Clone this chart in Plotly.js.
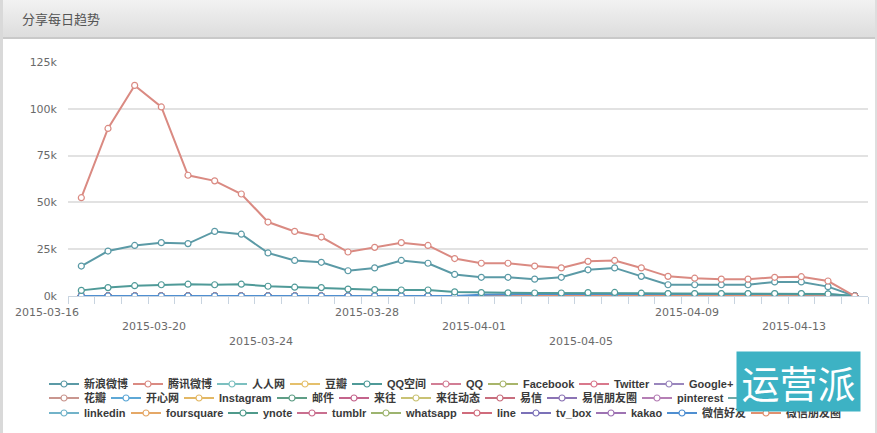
<!DOCTYPE html>
<html>
<head>
<meta charset="utf-8">
<script src="https://cdn.plot.ly/plotly-3.0.1.min.js"></script>
<style>
  html, body { margin: 0; padding: 0; background: #ffffff; }
  #wrap {
    position: relative; width: 877px; height: 433px; overflow: hidden;
    background: linear-gradient(to bottom, #f2f2f2 0px, #dddddd 37px, #c9c9c9 37px, #c9c9c9 39px, #ffffff 39px);
    box-sizing: border-box; border-left: 3px solid #d9d9d9; border-right: 2px solid #dedede;
  }
  #chart { position: absolute; left: -3px; top: 0; width: 877px; height: 433px; }
</style>
</head>
<body>
<div id="wrap"><div id="chart"></div></div>
<script>
// ---- data ----
const dates = ['2015-03-16','2015-03-17','2015-03-18','2015-03-19','2015-03-20','2015-03-21','2015-03-22','2015-03-23','2015-03-24','2015-03-25',
               '2015-03-26','2015-03-27','2015-03-28','2015-03-29','2015-03-30','2015-03-31','2015-04-01','2015-04-02','2015-04-03','2015-04-04',
               '2015-04-05','2015-04-06','2015-04-07','2015-04-08','2015-04-09','2015-04-10','2015-04-11','2015-04-12','2015-04-13','2015-04-14'];

const seriesNames = ['新浪微博','腾讯微博','人人网','豆瓣','QQ空间','QQ','Facebook','Twitter','Google+','搜狐微博',
                     '花瓣','开心网','Instagram','邮件','来往','来往动态','易信','易信朋友圈','pinterest','evernote',
                     'linkedin','foursquare','ynote','tumblr','whatsapp','line','tv_box','kakao','微信好友','微信朋友圈'];

const sinaWeibo    = [16000,24000,27000,28500,28000,34500,33000,23000,19000,18000,13500,15000,19000,17500,11500,10000,10000,9000,10000,14000,15000,10500,6000,6000,6000,6000,7500,7500,5000,0];
const tencentWeibo = [52500,89500,112500,101000,64500,61500,54500,39500,34500,31500,23500,26000,28500,27000,20000,17500,17500,16000,15000,18500,19000,15000,10500,9500,9000,9000,10000,10300,8000,0];
const qzone        = [3000,4500,5500,6000,6300,6000,6300,5200,4700,4500,3700,3400,3200,3200,2200,1800,1700,1600,1600,1800,1900,1500,1300,1300,1300,1300,1300,1300,1100,0];
const weixinFriend = [0,0,0,0,0,0,0,0,0,0,0,0,0,0,0,700,1000,1100,1100,1200,1200,1100,1100,1100,1100,1100,1200,1200,1000,0];
const zeroSeries   = [0,0,0,0,0,0,0,0,0,0,0,0,0,0,0,0,0,0,0,0,0,0,0,0,0,0,0,0,0,0];

const yTickVals = [0,25000,50000,75000,100000,125000];
const yTickText = ['0k','25k','50k','75k','100k','125k'];
const xLabelDates = ['2015-03-16','2015-03-20','2015-03-24','2015-03-28','2015-04-01','2015-04-05','2015-04-09','2015-04-13'];

// ---- styles ----
const colors = ['#5b9aa6','#da8a82','#7cc0c0','#e5c06c','#4f9a98','#d27e95','#a8b56a','#d9788c','#9a86bd','#8cb6c8',
                '#c9968f','#5ea8d6','#e3b865','#5f9e86','#c4648c','#c9c274','#c86e7e','#8c74b5','#b57fb5','#6fa8a8',
                '#72b3c9','#e5a867','#4f9a8b','#c96f8f','#9db46f','#d06c7c','#7b71b8','#9e73b3','#4f8fd1','#e0906f'];

const valuesByName = {'新浪微博': sinaWeibo, '腾讯微博': tencentWeibo, 'QQ空间': qzone, '微信好友': weixinFriend};

// plot geometry (px)
const W = 877, H = 433, L = 68, R = 9, T = 62, B = 137;
const pw = W - L - R, ph = H - T - B;
const px2x = p => (p - L) / pw;
const py2y = p => (H - B - p) / ph;

const legendFontSize = 11;
const legendFamily = 'Liberation Sans, Noto Sans CJK SC, sans-serif';
const cv = document.createElement('canvas').getContext('2d');
cv.font = 'bold ' + legendFontSize + 'px "Liberation Sans", "Noto Sans CJK SC", sans-serif';
const textW = s => cv.measureText(s).width;

const traces = seriesNames.map((name, i) => ({
  type: 'scatter', mode: 'lines+markers', name: name,
  x: dates, y: valuesByName[name] || zeroSeries,
  line: {color: colors[i], width: 2},
  marker: {symbol: 'circle', size: 6, color: '#ffffff', line: {color: colors[i], width: 1.2}},
  legend: i < 10 ? 'legend' : (i < 20 ? 'legend2' : 'legend3'),
  legendrank: i + 1,
  legendwidth: Math.max(8, Math.round(textW(name) - 5)),
  hoverinfo: 'x+y+name'
}));
// draw the big series on top
const order = traces.filter(t => !valuesByName[t.name]).concat(
  ['微信好友','QQ空间','新浪微博','腾讯微博'].map(n => traces.find(t => t.name === n)));

const rowY = [312, 326, 341];
const annotations = xLabelDates.map((d, i) => ({
  x: d, xref: 'x', y: py2y(rowY[i % 3]), yref: 'paper',
  text: d, showarrow: false, xanchor: 'right', yanchor: 'middle',
  font: {family: 'DejaVu Sans, sans-serif', size: 11, color: '#6a6a6a'}
}));
annotations.push({
  x: px2x(798.5), xref: 'paper', y: py2y(381.5), yref: 'paper',
  text: '运营派', showarrow: false, xanchor: 'center', yanchor: 'middle',
  width: 123, height: 59, borderpad: 0, bgcolor: '#3db2c4',
  font: {family: 'Noto Sans CJK SC, sans-serif', size: 38, color: '#ffffff'}
});

const legendFont = {family: legendFamily, size: legendFontSize, color: '#3a3a3a', weight: 'bold'};
const mkLegend = (cy) => ({
  orientation: 'h', x: px2x(44), xanchor: 'left', y: py2y(cy), yanchor: 'middle',
  xref: 'paper', yref: 'paper', font: legendFont, bgcolor: 'rgba(0,0,0,0)',
  itemwidth: 30, tracegroupgap: 0, borderwidth: 0, traceorder: 'normal'
});

const layout = {
  width: W, height: H,
  margin: {l: L, r: R, t: T, b: B, autoexpand: false},
  paper_bgcolor: 'rgba(0,0,0,0)', plot_bgcolor: 'rgba(0,0,0,0)',
  title: {text: '分享每日趋势', x: 22 / W, xanchor: 'left', xref: 'container', y: 1 - 19 / H, yanchor: 'middle', yref: 'container',
          font: {family: 'Noto Sans CJK SC, sans-serif', size: 13, color: '#555555'}},
  showlegend: true,
  legend: mkLegend(384),
  legend2: mkLegend(398),
  legend3: mkLegend(413),
  xaxis: {
    type: 'date', range: ['2015-03-15 12:00', '2015-04-14 12:00'],
    tick0: '2015-03-15 12:00', dtick: 86400000, ticks: 'outside', ticklen: 7, tickcolor: '#c8d4e0', tickwidth: 1,
    showticklabels: false, showgrid: false, zeroline: false,
    showline: true, linecolor: '#c8d4e0', linewidth: 1, fixedrange: true
  },
  yaxis: {
    range: [0, 125000], tickvals: yTickVals, ticktext: yTickText, ticks: '',
    showgrid: true, gridcolor: '#e2e2e2', gridwidth: 1.5, zeroline: false, showline: false,
    ticklabelstandoff: 10,
    tickfont: {family: 'DejaVu Sans, sans-serif', size: 11, color: '#6a6a6a'}, fixedrange: true
  },
  annotations: annotations,
  hovermode: 'closest'
};

Plotly.newPlot('chart', order, layout, {displayModeBar: false});
</script>
</body>
</html>
